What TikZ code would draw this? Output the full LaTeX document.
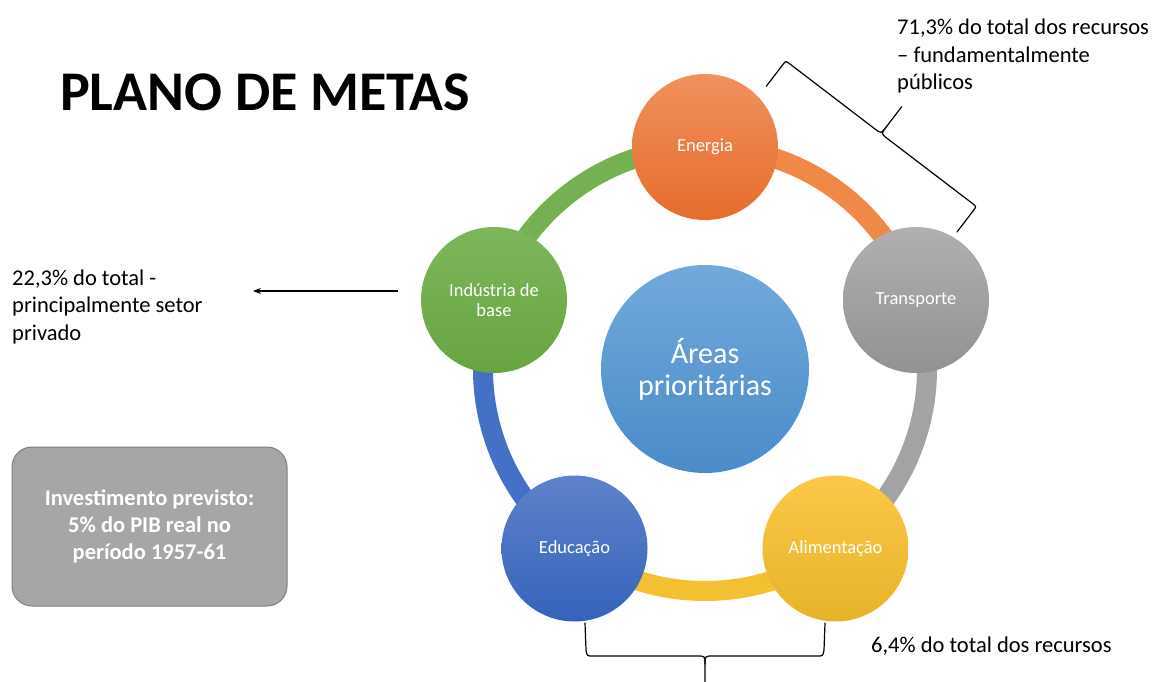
\documentclass[tikz,border=0pt]{standalone}
\usepackage{fontspec}
\setmainfont{Carlito}
\usetikzlibrary{shapes.geometric,arrows.meta}
\definecolor{engtop}{HTML}{F0915E}
\definecolor{engbot}{HTML}{E66C2C}
\definecolor{engring}{HTML}{F08848}
\definecolor{tratop}{HTML}{B0B0B0}
\definecolor{trabot}{HTML}{929292}
\definecolor{traring}{HTML}{A3A3A3}
\definecolor{alitop}{HTML}{FDC748}
\definecolor{alibot}{HTML}{E6B42A}
\definecolor{aliring}{HTML}{F2C031}
\definecolor{edutop}{HTML}{5E82C9}
\definecolor{edubot}{HTML}{3563BB}
\definecolor{eduring}{HTML}{4470C6}
\definecolor{indtop}{HTML}{7DB65B}
\definecolor{indbot}{HTML}{67A441}
\definecolor{indring}{HTML}{75B152}
\definecolor{ctrtop}{HTML}{72A9DB}
\definecolor{ctrbot}{HTML}{4A8BC9}
\definecolor{boxfill}{HTML}{A6A6A6}
\definecolor{boxedge}{HTML}{7F7F7F}
\begin{document}
\begin{tikzpicture}[x=1pt,y=-1pt,
  every node/.style={inner sep=0pt},
  area/.style={circle, minimum size=146pt, text=white,
    align=center, font=\fontsize{18.5}{20.5}\selectfont},
  ringarc/.style={line width=20pt},
  plaintext/.style={align=left, font=\fontsize{22.5}{27.5}\selectfont, anchor=base west},
  bracestyle/.style={line width=1.2pt, line join=round, line cap=round}]
\useasboundingbox (0,0) rectangle (1159,682);

% ring
\coordinate (hub) at (705,369);
\draw[ringarc, engring] (hub) ++(-90:222) arc[start angle=-90, end angle=-18, radius=222];
\draw[ringarc, traring] (hub) ++(-18:222) arc[start angle=-18, end angle=54, radius=222];
\draw[ringarc, aliring] (hub) ++(54:222) arc[start angle=54, end angle=126, radius=222];
\draw[ringarc, eduring] (hub) ++(126:222) arc[start angle=126, end angle=198, radius=222];
\draw[ringarc, indring] (hub) ++(198:222) arc[start angle=198, end angle=270, radius=222];

% circles
\node[circle, minimum size=208pt, top color=ctrtop, bottom color=ctrbot,
  text=white, align=center, font=\fontsize{30}{32}\selectfont] (ctr) at (hub) {Áreas\\prioritárias};
\node[area, top color=engtop, bottom color=engbot] (ene) at (705,147) {Energia};
\node[area, top color=tratop, bottom color=trabot] (tra) at (916,300) {Transporte};
\node[area, top color=alitop, bottom color=alibot] (ali) at (835.5,548.5) {Alimentação};
\node[area, top color=edutop, bottom color=edubot] (edu) at (574.5,548.5) {Educação};
\node[area, top color=indtop, bottom color=indbot] (ind) at (494,300) {Indústria de\\base};

% title
\node[anchor=base west, font=\bfseries\fontsize{56}{60}\selectfont] (title) at (60,111) {PLANO DE METAS};

% texts (base anchor = last line)
\node[plaintext] (pub) at (897,90) {71,3\% do total dos recursos\\– fundamentalmente\\públicos};
\node[plaintext] (priv) at (12,340) {22,3\% do total -\\principalmente setor\\privado};
\node[plaintext] (ali64) at (871,652) {6,4\% do total dos recursos};

% arrow
\coordinate (arrfrom) at (398,291);
\coordinate (arrto) at (253,291);
\draw[line width=1.2pt, -{Stealth[length=8pt,width=6pt]}] (arrfrom) -- (arrto);

% investment box
\node[draw=boxedge, fill=boxfill, rounded corners=20pt, minimum width=275pt, minimum height=159pt,
  line width=1pt, text=white, font=\bfseries\fontsize{22.5}{27}\selectfont, align=center]
  (inv) at (149.5,526.5) {Investimento previsto:\\5\% do PIB real no\\período 1957-61};

% top-right brace
\draw[bracestyle] (957,232) -- (973.4,210.5) .. controls (976.4,206.6) .. (972.5,203.5)
  -- (887.4,138.6) .. controls (881.1,133.7) .. (886.0,127.3) -- (901.7,106.7);
\draw[bracestyle] (766.3,86.2) -- (782.7,64.8) .. controls (785.7,60.8) .. (789.7,63.8)
  -- (874.7,128.8) .. controls (881.1,133.7) .. (886.0,127.3);

% bottom brace
\draw[bracestyle] (585,623) -- (586,650) .. controls (587,656) .. (593,656)
  -- (697,656) .. controls (705,656) .. (705,664) -- (705,690);
\draw[bracestyle] (825,623) -- (824,650) .. controls (823,656) .. (817,656)
  -- (713,656) .. controls (705,656) .. (705,664);
\end{tikzpicture}
\end{document}
